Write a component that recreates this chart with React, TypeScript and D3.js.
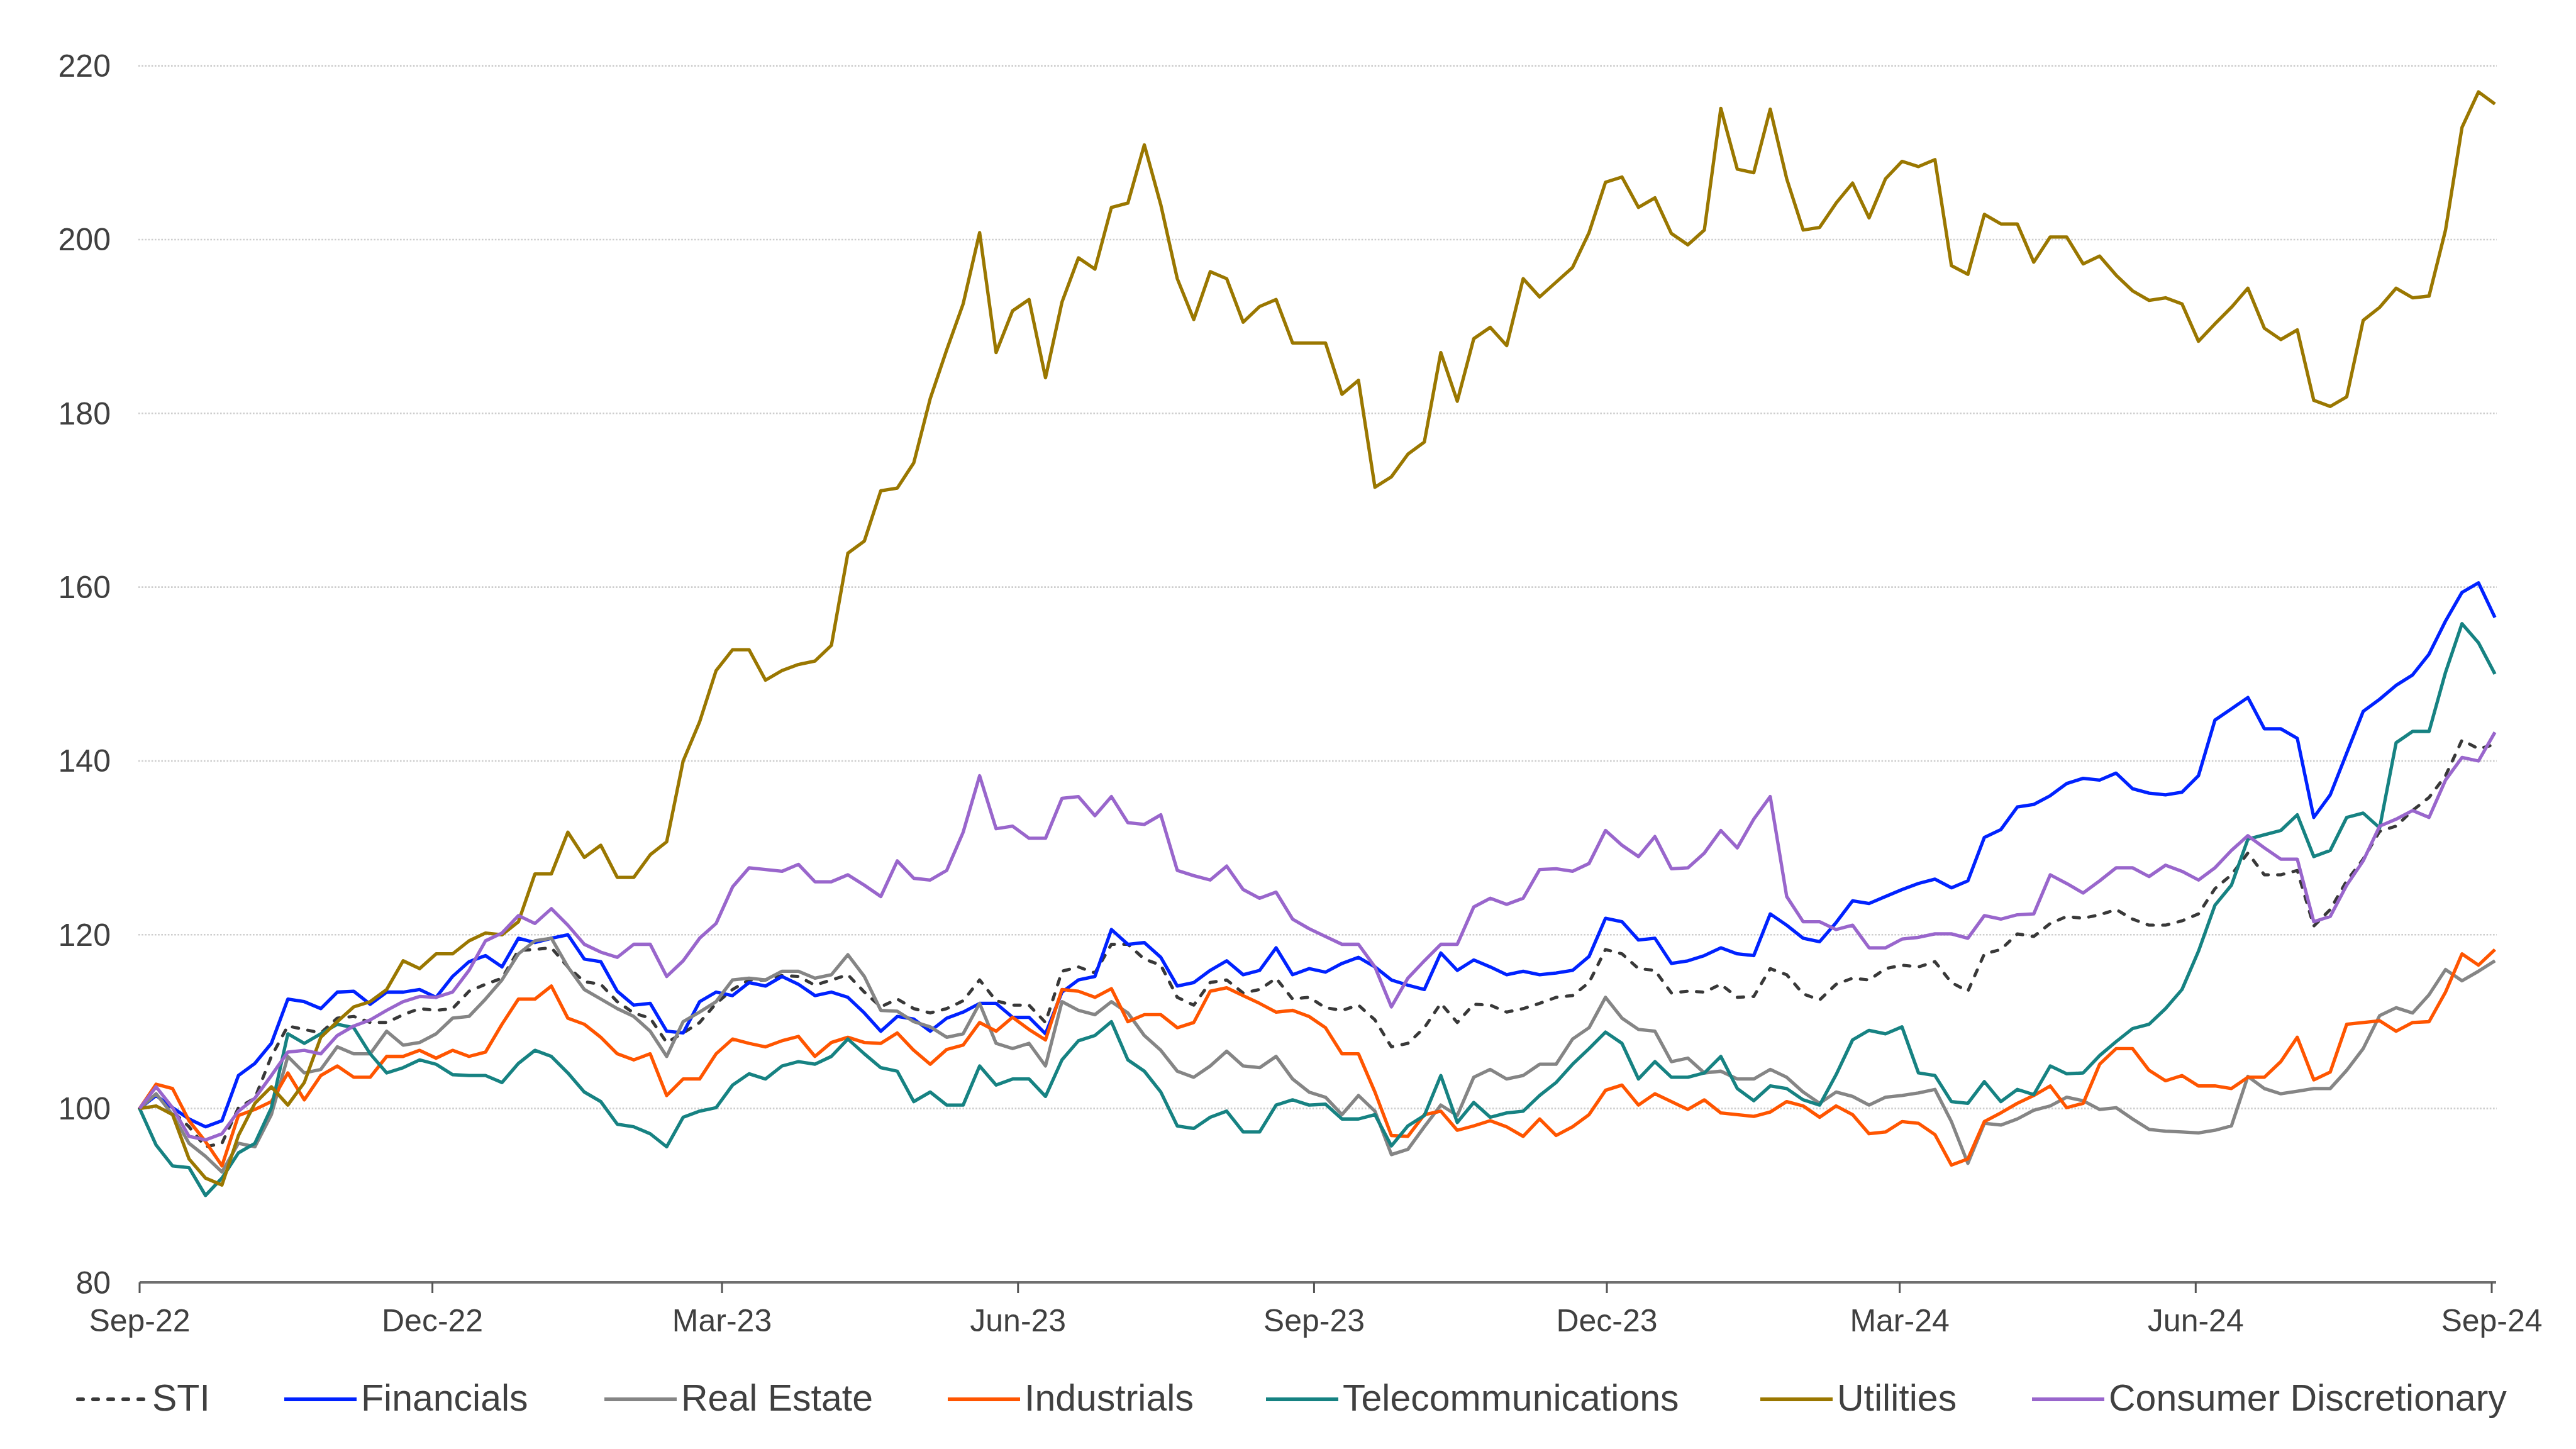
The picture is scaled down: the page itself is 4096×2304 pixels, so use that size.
import React from "react";
import * as d3 from "d3";

const W = 4096;
const H = 2304;

// Weekly-ish samples, evenly spaced from 1 Sep 2022 to 2 Sep 2024 (index = 100)
const START_DATE = new Date(2022, 8, 1);
const END_DATE = new Date(2024, 8, 2);

const sti = [
  100, 101.5, 99.7, 97.9, 95.6, 96, 100.1, 101.2, 106, 109.5, 109.1, 108.7, 110.4, 110.6, 109.9, 109.9, 110.8, 111.5, 111.3, 111.5, 113.5, 114.3, 115, 118.2, 118.3, 118.5, 116.3, 114.6, 114.3, 112.3, 111, 110.4, 107.6, 108.7, 109.9, 112.1, 113.7,
  114.8, 114.8, 115.3, 115.2, 114.2, 114.8, 115.4, 113.4, 111.7, 112.6, 111.5, 111, 111.5, 112.4, 114.8, 112.4, 111.9, 111.9, 109.9, 115.8, 116.3, 115.6, 118.9, 118.9, 117.2, 116.5, 112.8, 111.9, 114.5, 114.8, 113.3, 113.7, 115, 112.6, 112.8, 111.6,
  111.3, 111.9, 110.2, 107.1, 107.5, 109.3, 112.1, 109.9, 112, 111.9, 111.1, 111.5, 112.1, 112.8, 113, 114.5, 118.3, 117.8, 116.1, 115.9, 113.3, 113.5, 113.4, 114.3, 112.8, 112.9, 116.1, 115.4, 113.2, 112.5, 114.3, 115, 114.8, 116.1, 116.5,
  116.3, 116.9, 114.5, 113.5, 117.8, 118.3, 120.1, 119.8, 121.3, 122.1, 121.9, 122.3, 122.9, 121.8, 121.1, 121.1, 121.6, 122.4, 125.3, 126.9, 129.4, 126.9, 126.9, 127.4, 121, 122.9, 126.2, 128.7, 131.9, 132.5, 134.3, 135.8, 138.3, 142.4, 141.4, 141.9,
];

const financials = [
  100, 101.5, 100.1, 98.8, 97.9, 98.6, 103.8, 105.2, 107.5, 112.6, 112.3, 111.5, 113.4, 113.5, 112, 113.4, 113.4, 113.7, 112.8, 115.2, 116.9, 117.6, 116.3, 119.6, 119.1, 119.6, 120, 117.2, 116.9, 113.5, 111.9, 112.1, 108.9, 108.7, 112.3, 113.4, 113,
  114.5, 114.1, 115.2, 114.3, 113, 113.4, 112.8, 111, 108.9, 110.6, 110.3, 108.9, 110.4, 111.1, 112.1, 112.1, 110.5, 110.5, 108.6, 113.4, 114.8, 115.2, 120.6, 118.9, 119.1, 117.4, 114.1, 114.5, 115.9, 117, 115.4, 115.9, 118.5, 115.4, 116.1, 115.7,
  116.7, 117.4, 116.3, 114.8, 114.2, 113.7, 117.9, 115.9, 117.1, 116.3, 115.4, 115.8, 115.4, 115.6, 115.9, 117.5, 121.9, 121.5, 119.4, 119.6, 116.7, 117, 117.6, 118.5, 117.8, 117.6, 122.4, 121.1, 119.6, 119.2, 121.4, 123.9, 123.6, 124.4, 125.2,
  125.9, 126.4, 125.4, 126.2, 131.2, 132.1, 134.7, 135, 136, 137.4, 138, 137.8, 138.6, 136.8, 136.3, 136.1, 136.4, 138.3, 144.7, 146, 147.3, 143.7, 143.7, 142.6, 133.5, 136.1, 140.9, 145.7, 147.1, 148.7, 149.9, 152.3, 156.1, 159.4, 160.5, 156.5,
];

const realEstate = [
  100, 101.7, 99.3, 96, 94.5, 92.7, 96, 95.6, 99.3, 106, 104.1, 104.5, 107.1, 106.3, 106.3, 108.9, 107.3, 107.6, 108.6, 110.4, 110.6, 112.6, 114.8, 117.8, 119.3, 119.6, 116.3, 113.7, 112.6, 111.5, 110.6, 108.9, 106, 110, 111.1, 112.3, 114.8,
  115, 114.8, 115.8, 115.8, 115, 115.4, 117.7, 115.2, 111.3, 111.2, 110, 109.4, 108.2, 108.6, 112.1, 107.5, 106.9, 107.5, 104.9, 112.3, 111.3, 110.8, 112.3, 111, 108.4, 106.7, 104.3, 103.6, 104.9, 106.6, 104.9, 104.7, 106, 103.4, 101.9, 101.3,
  99.3, 101.5, 99.7, 94.7, 95.3, 97.9, 100.4, 99.2, 103.6, 104.5, 103.4, 103.8, 105.1, 105.1, 108, 109.3, 112.8, 110.4, 109.1, 108.9, 105.4, 105.8, 104.1, 104.3, 103.4, 103.4, 104.5, 103.6, 101.9, 100.6, 101.9, 101.4, 100.4, 101.3, 101.5,
  101.8, 102.2, 98.5, 93.7, 98.3, 98.1, 98.8, 99.8, 100.3, 101.3, 100.9, 99.9, 100.1, 98.8, 97.6, 97.4, 97.3, 97.2, 97.5, 98, 103.7, 102.3, 101.7, 102, 102.3, 102.3, 104.4, 106.9, 110.7, 111.6, 111, 113.1, 116, 114.7, 115.8, 117,
];

const industrials = [
  100, 102.8, 102.3, 98.6, 96.2, 93.4, 99.2, 99.9, 100.8, 104.1, 101, 103.8, 104.9, 103.6, 103.6, 106, 106, 106.7, 105.8, 106.7, 106, 106.5, 109.7, 112.6, 112.6, 114.1, 110.4, 109.7, 108.2, 106.3, 105.6, 106.3, 101.5, 103.4, 103.4, 106.3, 108,
  107.5, 107.1, 107.8, 108.3, 106, 107.6, 108.2, 107.6, 107.5, 108.7, 106.7, 105.1, 106.8, 107.3, 109.9, 108.9, 110.5, 109.1, 107.9, 113.7, 113.5, 112.8, 113.8, 110, 110.8, 110.8, 109.3, 109.9, 113.5, 113.9, 113, 112.1, 111.1, 111.3, 110.6, 109.3,
  106.3, 106.3, 101.9, 96.9, 96.8, 99.3, 99.7, 97.5, 98, 98.6, 97.9, 96.8, 98.8, 96.9, 97.9, 99.3, 102.1, 102.7, 100.4, 101.7, 100.8, 99.9, 101, 99.5, 99.3, 99.1, 99.6, 100.8, 100.3, 99, 100.3, 99.3, 97.1, 97.3, 98.5,
  98.3, 97, 93.5, 94.2, 98.5, 99.5, 100.6, 101.5, 102.6, 100.1, 100.6, 105.1, 106.9, 106.9, 104.4, 103.2, 103.8, 102.6, 102.6, 102.3, 103.6, 103.6, 105.4, 108.2, 103.3, 104.2, 109.7, 109.9, 110.1, 108.9, 109.9, 110, 113.4, 117.8, 116.5, 118.3,
];

const telecommunications = [
  100, 95.8, 93.4, 93.2, 90, 92, 94.9, 96, 100.1, 108.6, 107.5, 108.6, 109.7, 109.3, 106.3, 104.1, 104.7, 105.6, 105.1, 103.9, 103.8, 103.8, 103, 105.2, 106.7, 106, 104.1, 101.9, 100.8, 98.2, 97.9, 97.1, 95.6, 99, 99.7, 100.1, 102.7,
  104, 103.4, 104.9, 105.4, 105.1, 106, 108, 106.3, 104.7, 104.3, 100.8, 101.9, 100.4, 100.4, 104.9, 102.7, 103.4, 103.4, 101.4, 105.6, 107.8, 108.4, 110, 105.6, 104.3, 101.9, 98, 97.7, 99, 99.7, 97.3, 97.3, 100.4, 101, 100.4, 100.5,
  98.8, 98.8, 99.3, 95.7, 98, 99.2, 103.8, 98.4, 100.7, 99, 99.5, 99.7, 101.5, 103, 105.1, 106.9, 108.8, 107.5, 103.4, 105.4, 103.6, 103.6, 104.1, 106, 102.3, 100.9, 102.6, 102.3, 101, 100.4, 103.9, 107.9, 109, 108.6, 109.4,
  104.1, 103.8, 100.8, 100.6, 103.1, 100.8, 102.2, 101.6, 104.9, 104, 104.1, 106.1, 107.7, 109.2, 109.7, 111.5, 113.7, 118.1, 123.4, 125.7, 131, 131.5, 132, 133.8, 129, 129.7, 133.5, 134, 132.3, 142.1, 143.4, 143.4, 150.2, 155.8, 153.6, 150,
];

const utilities = [
  100, 100.3, 99.3, 94.2, 92, 91.2, 96.9, 100.6, 102.5, 100.4, 103, 108.2, 110, 111.7, 112.3, 113.7, 117, 116.1, 117.8, 117.8, 119.3, 120.2, 120, 121.5, 127, 127, 131.8, 128.9, 130.3, 126.6, 126.6, 129.2, 130.7,
  140, 144.5, 150.4, 152.8, 152.8, 149.3, 150.4, 151.1, 151.5, 153.3, 163.9, 165.3, 171.1, 171.4, 174.3, 181.7, 187.3, 192.6, 200.8, 187, 191.8, 193.1, 184.1, 192.8, 197.9, 196.6, 203.7, 204.2, 210.9, 204, 195.5, 190.8, 196.3, 195.5, 190.5, 192.3, 193.1, 188.1, 188.1, 188.1, 182.2, 183.8, 171.5, 172.7, 175.3, 176.7, 187, 181.4, 188.6, 189.9, 187.8, 195.5, 193.4, 195.1, 196.8,
  200.8, 206.6, 207.2, 203.7, 204.8, 200.7, 199.4, 201.1, 215.1, 208.1, 207.7, 215, 207, 201.1, 201.4, 204.2, 206.5, 202.5, 207, 209, 208.4, 209.2, 197, 196, 202.9, 201.8, 201.8, 197.4, 200.3, 200.3, 197.2, 198.1, 195.9, 194.1, 193, 193.3, 192.6, 188.3, 190.3, 192.2, 194.4, 189.8, 188.5, 189.6, 181.5, 180.8, 181.9, 190.7, 192.2, 194.4, 193.3, 193.5, 201.1, 212.9, 217, 215.6,
];

const consumerDiscretionary = [
  100, 102.5, 100.1, 96.8, 96.4, 97.1, 99.7, 101.2, 103.8, 106.5, 106.7, 106.3, 108.4, 109.5, 110.2, 111.3, 112.3, 112.9, 112.8, 113.4, 115.9, 119.3, 120.2, 122.2, 121.3, 123, 121.1, 118.9, 118, 117.4, 118.9, 118.9, 115.2, 117, 119.6, 121.3, 125.5,
  127.7, 127.5, 127.3, 128.1, 126.1, 126.1, 126.9, 125.7, 124.4, 128.5, 126.5, 126.3, 127.4, 131.8, 138.3, 132.2, 132.5, 131.1, 131.1, 135.7, 135.9, 133.7, 135.9, 132.9, 132.7, 133.8, 127.4, 126.8, 126.3, 127.9, 125.2, 124.2, 124.9, 121.8, 120.7, 119.8,
  118.9, 118.9, 116.3, 111.7, 115, 117, 118.9, 118.9, 123.2, 124.2, 123.5, 124.2, 127.5, 127.6, 127.3, 128.2, 132, 130.3, 129, 131.3, 127.6, 127.7, 129.4, 132, 130, 133.3, 135.9, 124.4, 121.5, 121.5, 120.6, 121.1, 118.5, 118.5, 119.5,
  119.7, 120.1, 120.1, 119.6, 122.2, 121.8, 122.3, 122.4, 126.9, 125.9, 124.8, 126.2, 127.7, 127.7, 126.7, 128, 127.3, 126.3, 127.7, 129.7, 131.4, 130, 128.7, 128.7, 121.5, 122.1, 125.7, 128.5, 132.5, 133.3, 134.3, 133.5, 137.8, 140.4, 140, 143.3,
];

const seriesNames = ["STI", "Financials", "Real Estate", "Industrials", "Telecommunications", "Utilities", "Consumer Discretionary"];
const seriesValues = [sti, financials, realEstate, industrials, telecommunications, utilities, consumerDiscretionary];
const seriesColors = ["#383838", "#0022ff", "#858585", "#ff5500", "#168282", "#9a7700", "#9966cc"];

const yTicks = [80, 100, 120, 140, 160, 180, 200, 220];
const xTickLabels = ["Sep-22", "Dec-22", "Mar-23", "Jun-23", "Sep-23", "Dec-23", "Mar-24", "Jun-24", "Sep-24"];
const xTickDates = [
  new Date(2022, 8, 1), new Date(2022, 11, 1), new Date(2023, 2, 1), new Date(2023, 5, 1),
  new Date(2023, 8, 1), new Date(2023, 11, 1), new Date(2024, 2, 1), new Date(2024, 5, 1), new Date(2024, 8, 1),
];

const FONT = "'Liberation Sans', Arial, Helvetica, sans-serif";
const TEXT = "#404040";

export default function App() {
  const x = d3.scaleTime().domain([new Date(2022, 8, 1), new Date(2024, 8, 1)]).range([222, 3962]);
  const y = d3.scaleLinear().domain([80, 220]).range([2039, 104.6]);

  const n = sti.length;
  const t0 = START_DATE.getTime();
  const t1 = END_DATE.getTime();
  const dates = d3.range(n).map((i) => new Date(t0 + ((t1 - t0) * i) / (n - 1)));

  const line = d3
    .line<number>()
    .x((_, i) => x(dates[i]))
    .y((d) => y(d));

  const legendX = [120, 452, 961, 1507, 2013, 2799, 3231];
  const legendY = 2225;

  return (
    <svg
      width={W}
      height={H}
      viewBox={`0 0 ${W} ${H}`}
      style={{ position: "absolute", left: 0, top: 0, background: "#ffffff" }}
      fontFamily={FONT}
    >
      <rect x={0} y={0} width={W} height={H} fill="#ffffff" />
      {/* gridlines */}
      {yTicks.filter((v) => v !== 80).map((v) => (
        <line key={"g" + v} x1={220} x2={3970} y1={y(v)} y2={y(v)} stroke="#cdcdcd" strokeWidth={2.6} strokeDasharray="2.6,2.6" />
      ))}
      {/* y labels */}
      {yTicks.map((v) => (
        <text key={"yl" + v} x={176} y={y(v)} dy="0.35em" textAnchor="end" fontSize={50} fill={TEXT}>
          {v}
        </text>
      ))}
      {/* series lines */}
      {seriesValues.map((vals, k) => (
        <path
          key={seriesNames[k]}
          d={line(vals) || ""}
          fill="none"
          stroke={seriesColors[k]}
          strokeWidth={k === 0 ? 5 : 5.3}
          strokeDasharray={k === 0 ? "10,15" : undefined}
          strokeLinecap={k === 0 ? "round" : "butt"}
          strokeLinejoin="round"
        />
      ))}
      {/* x axis */}
      <line x1={222} x2={3969} y1={2039} y2={2039} stroke="#6f6f6f" strokeWidth={4} />
      {xTickDates.map((d, i) => (
        <g key={xTickLabels[i]}>
          <line x1={x(d)} x2={x(d)} y1={2039} y2={2056} stroke="#555555" strokeWidth={3} />
          <text x={x(d)} y={2117} textAnchor="middle" fontSize={50} fill={TEXT}>
            {xTickLabels[i]}
          </text>
        </g>
      ))}
      {/* legend */}
      {seriesNames.map((name, k) => (
        <g key={"lg" + name}>
          <line
            x1={legendX[k] + (k === 0 ? 4 : 0)}
            x2={legendX[k] + 115}
            y1={legendY}
            y2={legendY}
            stroke={seriesColors[k]}
            strokeWidth={6}
            strokeDasharray={k === 0 ? "8,16" : undefined}
            strokeLinecap={k === 0 ? "round" : "butt"}
          />
          <text x={legendX[k] + 122} y={2243} fontSize={59} fill={TEXT}>
            {name}
          </text>
        </g>
      ))}
    </svg>
  );
}
